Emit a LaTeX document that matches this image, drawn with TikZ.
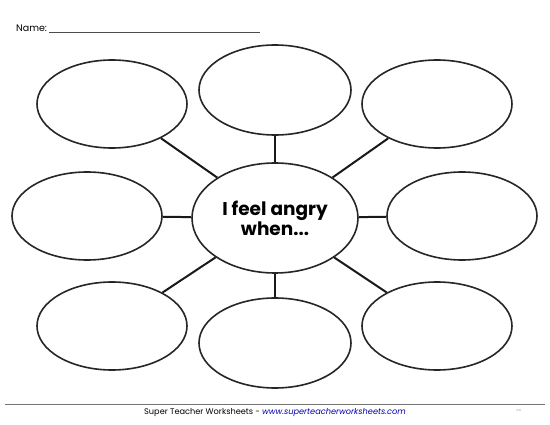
\documentclass[tikz,border=0pt]{standalone}
\usepackage{fontspec}
\setmainfont{Poppins}
\usetikzlibrary{shapes.geometric}
\begin{document}
\begin{tikzpicture}[x=1pt,y=-1pt,
  bub/.style={draw=black!85,line width=1.6pt,ellipse,minimum width=150pt,minimum height=88pt,inner sep=0pt},
  link/.style={draw=black!90,line width=2pt}]
\useasboundingbox[fill=white] (0,0) rectangle (550,425);
\node[bub,minimum width=166pt,minimum height=110pt,align=center,font=\bfseries\fontsize{18.5}{20}\selectfont] (c) at (275,218) {I feel angry\\when...};
\node[bub] (tl) at (112,104) {};
\node[bub,minimum width=152pt,minimum height=90pt] (tm) at (275,90) {};
\node[bub] (tr) at (437,104) {};
\node[bub] (ml) at (87,216) {};
\node[bub] (mr) at (462,216) {};
\node[bub] (bl) at (112,326) {};
\node[bub,minimum width=152pt,minimum height=90pt] (bm) at (275,343) {};
\node[bub] (br) at (437,326) {};
\foreach \n in {tl,tm,tr,ml,mr,bl,bm,br} \draw[link] (c) -- (\n);
\node[anchor=west,font=\fontsize{9.5}{10}\selectfont,inner sep=0pt] (name) at (16,28) {Name:};
\coordinate (ne) at (260,32);
\draw[black!70,line width=0.8pt] (name.east|-ne) ++(2,0) -- (ne);
\coordinate (fl) at (5,405);
\coordinate (fr) at (545,405);
\draw[black!55,line width=1pt] (fl) -- (fr);
\node[font=\fontsize{8.2}{9}\selectfont,inner sep=0pt] (foot) at (275,413) {Super Teacher Worksheets - \textcolor{blue!70!black}{\itshape www.superteacherworksheets.com}};
\node[font=\fontsize{3}{3}\selectfont,text=black!50,inner sep=0pt] (copy) at (519,410) {CC};
\end{tikzpicture}
\end{document}
